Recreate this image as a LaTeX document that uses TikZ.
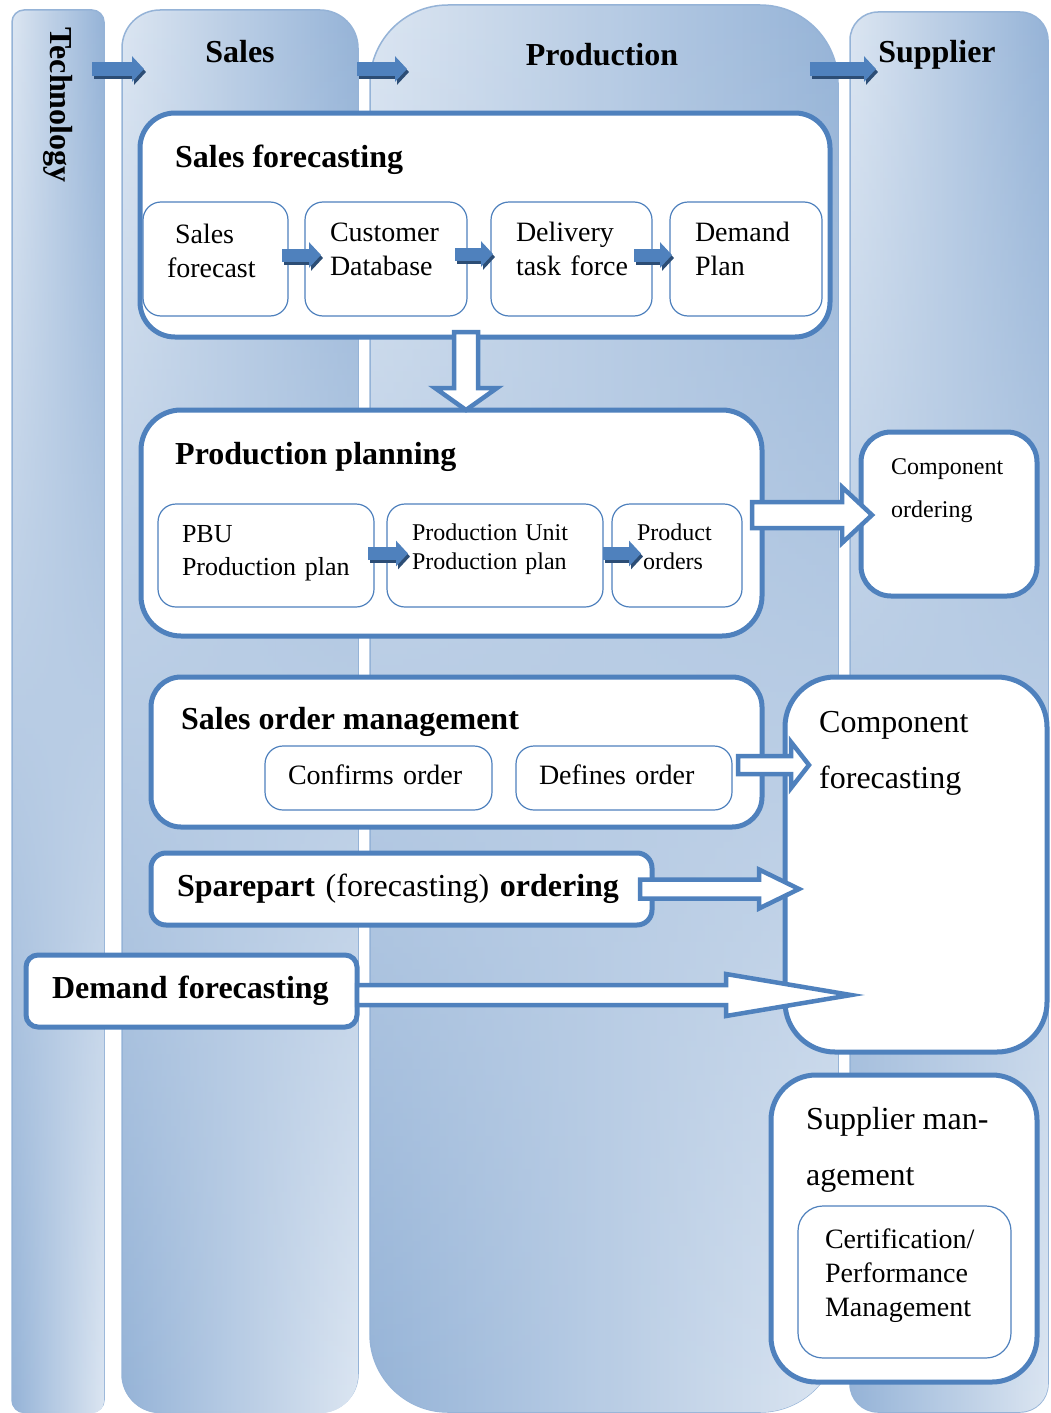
\documentclass[tikz,border=0pt]{standalone}
\usepackage{fontspec}
\setmainfont{Liberation Serif}
\usetikzlibrary{arrows.meta, calc, fadings}
\definecolor{BoxBlue}{HTML}{4F81BD}
\definecolor{ArrowDark}{HTML}{2C4D75}
\definecolor{LaneLight}{HTML}{DCE6F2}
\definecolor{LaneDark}{HTML}{95B3D7}
\definecolor{LaneLine}{HTML}{95B3D7}

% hollow block arrows: start, tip, half shaft, half head, head length
\newcommand\harrow[5]{\draw[hollow] let \p1=(#1), \p2=(#2) in (\x1,\y1+#3) -- (\x2-#5,\y1+#3) -- (\x2-#5,\y1+#4) -- (\x2,\y1) -- (\x2-#5,\y1-#4) -- (\x2-#5,\y1-#3) -- (\x1,\y1-#3) -- cycle;}
\newcommand\varrow[5]{\draw[hollow] let \p1=(#1), \p2=(#2) in (\x1-#3,\y1) -- (\x1-#3,\y2+#5) -- (\x1-#4,\y2+#5) -- (\x1,\y2) -- (\x1+#4,\y2+#5) -- (\x1+#3,\y2+#5) -- (\x1+#3,\y1) -- cycle;}

\begin{document}
\begin{tikzpicture}[x=1pt, y=-1pt,
			lane/.style={draw=LaneLine, line width=1.5pt, anchor=north west, outer sep=0pt, left color=LaneLight, right color=LaneDark, postaction={path fading=north, left color=LaneDark, right color=LaneLight}},
			lanetitle/.style={font=\bfseries\fontsize{32}{38}\selectfont, inner sep=0pt, anchor=base},
			group/.style={draw=BoxBlue, line width=5pt, fill=white, anchor=north west, outer sep=0pt},
			headline/.style={font=\bfseries\fontsize{32}{38}\selectfont, inner sep=0pt, anchor=base west},
			boxtext/.style={inner sep=0pt, anchor=north west, align=left},
			item/.style={draw=BoxBlue, line width=1.2pt, fill=white, rounded corners=18pt, anchor=north west, outer sep=0pt, align=left, inner xsep=25pt, font=\fontsize{28}{34}\selectfont},
			flow/.style={line width=13pt, draw=BoxBlue, -{Triangle[length=12pt,width=25pt]}, preaction={draw=ArrowDark, line width=13pt, -{Triangle[length=12pt,width=25pt]}, transform canvas={shift={(2pt,-3pt)}}}},
			hollow/.style={draw=BoxBlue, line width=4.5pt, fill=white, line join=miter}
		]
			\useasboundingbox (0,0) rectangle (1051,1413);
			% lanes
			\node at (12,10) [lane, rounded corners=12pt, minimum width=92pt, minimum height=1402pt] (tech) {};
			\node at (122,10) [lane, rounded corners=38pt, minimum width=236pt, minimum height=1402pt] (sales) {};
			\node at (370,5) [lane, rounded corners=78pt, minimum width=468pt, minimum height=1407pt] (prod) {};
			\node at (850,12) [lane, rounded corners=28pt, minimum width=198pt, minimum height=1400pt] (supplier) {};
			\node at (58,105) [lanetitle, rotate=-90, anchor=center] (techTitle) {Technology};
			\node at (240,63) [lanetitle] (salesTitle) {Sales};
			\node at (602,66) [lanetitle] (prodTitle) {Production};
			\node at (937,63) [lanetitle] (supplierTitle) {Supplier};
			\draw[flow] ([xshift=-12pt,yshift=-59pt]tech.north east) -- ([xshift=22pt,yshift=-59pt]sales.north west);
			\draw[flow] ([xshift=-1pt,yshift=-59pt]sales.north east) -- ([xshift=37pt,yshift=-64pt]prod.north west);
			\draw[flow] ([xshift=-28pt,yshift=-64pt]prod.north east) -- ([xshift=26pt,yshift=-57pt]supplier.north west);
			% sales forecasting
			\node at (140,113) [group, rounded corners=35pt, minimum width=690pt, minimum height=224pt] (sfBox) {};
			\node at (175,167) [headline] (sfTitle) {Sales forecasting};
			\node at (143,202) [item, inner xsep=24pt, text width=97pt, minimum height=114pt, text height=3pt] (sfc) {\hspace*{8pt}Sales\\forecast};
			\node at (305,202) [item, text width=112pt, minimum height=114pt, text height=0pt] (cdb) {Customer\\Database};
			\node at (491,202) [item, text width=111pt, minimum height=114pt, text height=0pt] (dtf) {Delivery\\task~force};
			\node at (670,202) [item, text width=102pt, minimum height=114pt, text height=0pt] (dp) {Demand\\Plan};
			\draw[flow] ([xshift=-6pt,yshift=4pt]sfc.east) -- ([xshift=16pt,yshift=4pt]cdb.west);
			\draw[flow] ([xshift=-12pt,yshift=5pt]cdb.east) -- ([xshift=2pt,yshift=5pt]dtf.west);
			\draw[flow] ([xshift=-18pt,yshift=4pt]dtf.east) -- ([xshift=2pt,yshift=4pt]dp.west);
			% production planning
			\node at (141,410) [group, rounded corners=40pt, minimum width=621pt, minimum height=226pt] (ppBox) {};
			\node at (175,464) [headline] (ppTitle) {Production planning};
			\node at (158,504) [item, inner xsep=24pt, text width=168pt, minimum height=103pt, text height=12pt, font=\fontsize{26}{33}\selectfont] (pbu) {PBU\\Production~plan};
			\node at (387,504) [item, text width=166pt, minimum height=103pt, text height=4pt, font=\fontsize{24}{29}\selectfont] (pup) {Production~Unit\\Production~plan};
			\node at (612,504) [item, text width=80pt, minimum height=103pt, text height=0pt, font=\fontsize{24}{29}\selectfont] (po) {Product\\\hspace*{6pt}orders};
			\draw[flow] ([xshift=-6pt,yshift=2pt]pbu.east) -- ([xshift=21pt,yshift=2pt]pup.west);
			\draw[flow] ([yshift=2pt]pup.east) -- ([xshift=29pt,yshift=2pt]po.west);
			% supplier side
			\node at (861,432) [group, rounded corners=30pt, minimum width=176pt, minimum height=164pt] (co) {};
			\node at (891,458) [boxtext, font=\fontsize{24}{43}\selectfont] (coText) {Component\\ordering};
			\node at (785,677) [group, rounded corners=50pt, minimum width=262pt, minimum height=375pt] (cf) {};
			\node at (819,711) [boxtext, font=\fontsize{32}{56}\selectfont] (cfText) {Component\\forecasting};
			\node at (771,1075) [group, rounded corners=45pt, minimum width=266pt, minimum height=307pt] (sm) {};
			\node at (806,1107) [boxtext, font=\fontsize{32}{56}\selectfont] (smText) {Supplier man-\\agement};
			\node at (798,1206) [item, inner xsep=27pt, text width=159pt, minimum height=152pt, text height=8pt, rounded corners=25pt] (cert) {Certification/\\Performance\\Management};
			% sales order management
			\node at (151,677) [group, rounded corners=30pt, minimum width=611pt, minimum height=150pt] (som) {};
			\node at (181,729) [headline] (somTitle) {Sales order management};
			\node at (265,746) [item, inner xsep=23pt, text width=181pt, minimum height=64pt, text depth=6pt] (cfo) {Confirms order};
			\node at (516,746) [item, inner xsep=23pt, text width=170pt, minimum height=64pt, text depth=6pt] (dfo) {Defines order};
			% sparepart and demand
			\node at (151,853) [group, rounded corners=15pt, align=left, inner xsep=26pt, text width=449pt, minimum height=72pt, font=\fontsize{32}{38}\selectfont] (spare) {\textbf{Sparepart} (forecasting) \textbf{ordering}};
			\node at (26,955) [group, rounded corners=12pt, align=left, inner xsep=26pt, text width=279pt, minimum height=72pt, font=\bfseries\fontsize{32}{38}\selectfont] (demand) {Demand~forecasting};
			% hollow arrows
			\varrow{[xshift=326pt,yshift=5pt]sfBox.south west}{[xshift=325pt]ppBox.north west}{12}{31}{22}
			\harrow{[xshift=-10pt,yshift=8pt]ppBox.east}{[xshift=11pt]co.west}{13}{28}{30}
			\harrow{[xshift=-24pt,yshift=-13pt]som.east}{[xshift=24pt]cf.west}{9}{23}{18}
			\harrow{[xshift=-12pt]spare.east}{[xshift=14pt]cf.west}{9.5}{19.5}{40}
			\harrow{[yshift=-4pt]demand.east}{[xshift=66pt]cf.west}{10}{21}{125}
		\end{tikzpicture}
\end{document}
